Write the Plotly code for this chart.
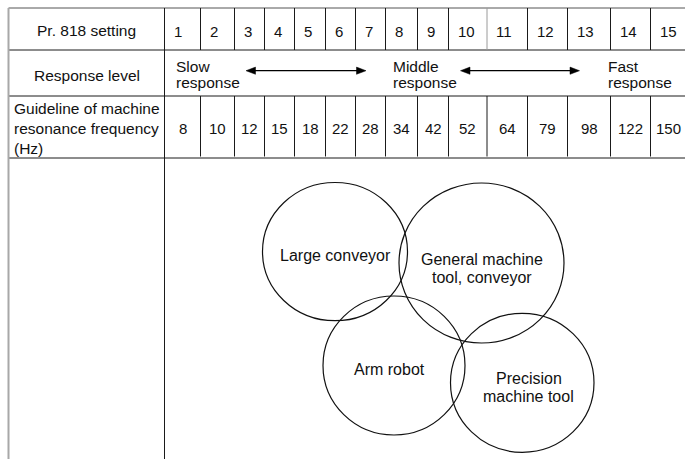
import plotly.graph_objects as go

# ---------------- data ----------------
settings = [1, 2, 3, 4, 5, 6, 7, 8, 9, 10, 11, 12, 13, 14, 15]
frequencies_hz = [8, 10, 12, 15, 18, 22, 28, 34, 42, 52, 64, 79, 98, 122, 150]
row_labels = ["Pr. 818 setting", "Response level",
              "Guideline of machine<br>resonance frequency<br>(Hz)"]
response_levels = ["Slow<br>response", "Middle<br>response", "Fast<br>response"]
applications = ["Large conveyor", "General machine<br>tool, conveyor",
                "Arm robot", "Precision<br>machine tool"]

# ---------------- layout constants ----------------
W, H = 685, 459
FONT = "Liberation Sans, Arial, Helvetica, sans-serif"
LINE = "#1a1a1a"
LEFT_X = 8.5
LABEL_X = 164.5
COL_EDGES = [164.5, 200.5, 234.5, 264.5, 294.5, 325.5, 355.5, 385.5, 417.5,
             448.5, 487.0, 527.5, 567.5, 610.5, 650.5, 686.0]
ROW_EDGES = [8.0, 50.0, 96.0, 158.0]
ROW1_PAD = 7
ROW1_BASE = 36.0
ROW2_BASES = (71.7, 87.5)
ROW2_X = [174, 391, 606]
ROW2_LABEL_BASE = 81.0
ROW3_BASES = (114.0, 134.0, 153.5)
ROW3_NUM_BASE = 133.3
ARROWS = [(246, 366), (460.5, 579.5)]
ARROW_Y = 70.7
CIRCLES = [  # x0, x1, y0, y1
    (262.5, 407.5, 182.5, 320.7),
    (399.0, 564.0, 183.0, 343.0),
    (323.0, 465.0, 296.0, 435.0),
    (450.5, 594.0, 313.3, 452.3),
]
APP_TEXT = [  # x centre, first baseline
    (335.7, 260.7),
    (482.0, 264.5),
    (389.7, 374.3),
    (528.5, 383.3),
]
APP_LINE_GAP = 18.3
TABLE_FS = 15.5
NUM_FS = 15
APP_FS = 16

fig = go.Figure()
shapes = []
annotations = []


def hline(y, x0, x1, color=LINE, w=1):
    shapes.append(dict(type="line", xref="x", yref="y", x0=x0, x1=x1, y0=y, y1=y,
                       line=dict(color=color, width=w)))


def vline(x, y0, y1, color=LINE, w=1):
    shapes.append(dict(type="line", xref="x", yref="y", x0=x, x1=x, y0=y0, y1=y1,
                       line=dict(color=color, width=w)))


def text(x, base, s, fs, xanchor="left"):
    # convert approximate baseline to visual middle
    annotations.append(dict(x=x, y=base - 0.33 * fs, xref="x", yref="y", text=s,
                            showarrow=False, xanchor=xanchor, yanchor="middle",
                            font=dict(family=FONT, size=fs, color="#111")))


# horizontal rules
for y in ROW_EDGES:
    hline(y, LEFT_X, W + 5, color="#555" if y == ROW_EDGES[0] else LINE)
# outer verticals
vline(LEFT_X, ROW_EDGES[0], H + 5, color="#a8a8a8", w=2)
vline(LABEL_X, ROW_EDGES[0], H + 5)
# column lines in row 1 and row 3
for i, x in enumerate(COL_EDGES[1:-1]):
    col = "#9a9a9a" if i == 9 else LINE
    vline(x, ROW_EDGES[0], ROW_EDGES[1], color=col)
    vline(x, ROW_EDGES[2], ROW_EDGES[3] - 1.5)

# row labels
text((LEFT_X + LABEL_X) / 2, ROW1_BASE - 0.5, row_labels[0], TABLE_FS, "center")
text((LEFT_X + LABEL_X) / 2, ROW2_LABEL_BASE, row_labels[1], TABLE_FS, "center")
for k, part in enumerate(row_labels[2].split("<br>")):
    text(LEFT_X + 3.2, ROW3_BASES[k], part, TABLE_FS, "left")

# row 1: settings (left aligned in cells)
for i, s in enumerate(settings):
    text(COL_EDGES[i] + ROW1_PAD, ROW1_BASE, str(s), NUM_FS, "left")

# row 3: frequencies (centred in cells)
for i, f in enumerate(frequencies_hz):
    text((COL_EDGES[i] + COL_EDGES[i + 1]) / 2, ROW3_NUM_BASE, str(f), NUM_FS, "center")

# row 2: response levels
for x, lvl in zip(ROW2_X, response_levels):
    for k, part in enumerate(lvl.split("<br>")):
        text(x, ROW2_BASES[k], part, TABLE_FS, "left")

# arrows
HEAD_L, HEAD_W = 9.5, 3.6
for xa, xb in ARROWS:
    hline(ARROW_Y, xa + HEAD_L - 1, xb - HEAD_L + 1, color="#000", w=1.3)
    shapes.append(dict(type="path", xref="x", yref="y",
                       path=f"M {xa} {ARROW_Y} L {xa + HEAD_L} {ARROW_Y - HEAD_W} "
                            f"L {xa + HEAD_L} {ARROW_Y + HEAD_W} Z",
                       fillcolor="#000", line=dict(color="#000", width=0.5)))
    shapes.append(dict(type="path", xref="x", yref="y",
                       path=f"M {xb} {ARROW_Y} L {xb - HEAD_L} {ARROW_Y - HEAD_W} "
                            f"L {xb - HEAD_L} {ARROW_Y + HEAD_W} Z",
                       fillcolor="#000", line=dict(color="#000", width=0.5)))

# application circles
for (x0, x1, y0, y1) in CIRCLES:
    shapes.append(dict(type="circle", xref="x", yref="y", x0=x0, x1=x1, y0=y0, y1=y1,
                       line=dict(color="#111", width=1.2)))
for (cx, base), app in zip(APP_TEXT, applications):
    for k, part in enumerate(app.split("<br>")):
        text(cx, base + k * APP_LINE_GAP, part, APP_FS, "center")

fig.update_layout(
    width=W, height=H,
    margin=dict(l=0, r=0, t=0, b=0),
    paper_bgcolor="white", plot_bgcolor="white",
    xaxis=dict(range=[0, W], visible=False, fixedrange=True),
    yaxis=dict(range=[H, 0], visible=False, fixedrange=True),
    shapes=shapes, annotations=annotations,
    showlegend=False,
)
fig.write_html(
    "out.html",
    config={"displayModeBar": False},
    post_script="document.body.style.margin='0';document.body.style.overflow='hidden';",
)
